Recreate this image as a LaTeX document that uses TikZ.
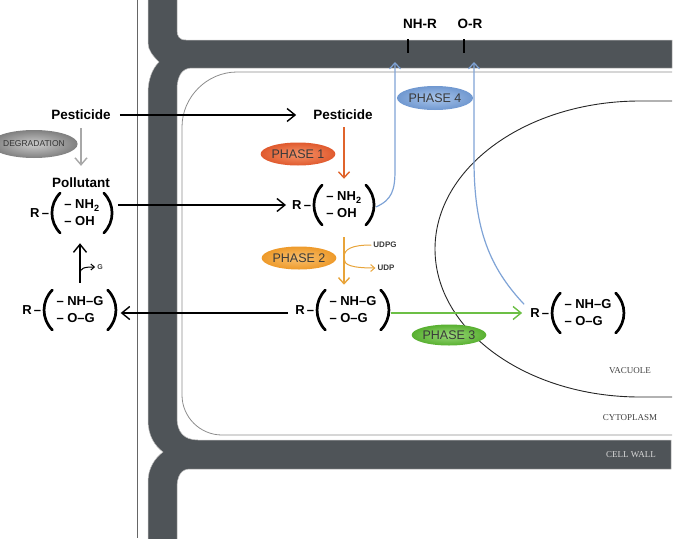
\documentclass[tikz,border=0pt]{standalone}
\usepackage{fontspec}
\setmainfont{Liberation Sans}
\newfontfamily\lserif{Liberation Serif}
\usetikzlibrary{arrows.meta,shapes.geometric,calc}
\definecolor{wallc}{HTML}{4F5458}
\definecolor{oneA}{HTML}{E05A2E}\definecolor{oneB}{HTML}{F5946A}
\definecolor{twoA}{HTML}{EE9A2A}\definecolor{twoB}{HTML}{F8C070}
\definecolor{thrA}{HTML}{58B030}\definecolor{thrB}{HTML}{9AD87A}
\definecolor{fouA}{HTML}{7098D0}\definecolor{fouB}{HTML}{A9C5EA}
\definecolor{orgone}{HTML}{E0642C}
\definecolor{orgtwo}{HTML}{E8A43A}
\definecolor{grnc}{HTML}{6CBF45}
\definecolor{bluc}{HTML}{7FA3D6}
\definecolor{gryc}{HTML}{A8A8A8}
\definecolor{txtc}{HTML}{3A3A3A}
\newcommand{\chemgrp}[4]{%
  \node[chemtxt] (#1) at (#2) {#3\\#4};
  \draw[paren] ([xshift=-4pt,yshift=20pt]#1.west) to[bend right=45] ([xshift=-4pt,yshift=-20pt]#1.west);
  \draw[paren] ([xshift=4pt,yshift=20pt]#1.east) to[bend left=45] ([xshift=4pt,yshift=-20pt]#1.east);
  \node[chemtxt,anchor=east] (#1R) at ([xshift=-15pt]#1.west) {R\,–};
}
\begin{document}
\begin{tikzpicture}[x=1pt,y=-1pt,
  lbl/.style={font=\bfseries\fontsize{13.5}{15}\selectfont, inner sep=0pt},
  chemtxt/.style={font=\bfseries\fontsize{13}{17}\selectfont, align=left, inner sep=0pt},
  paren/.style={line width=2.7pt, line cap=round},
  phase/.style={ellipse, inner sep=0pt, minimum width=74pt, minimum height=23pt, text=txtc, font=\fontsize{12.5}{14}\selectfont},
  blk/.style={draw=black, line width=1.4pt, -{Straight Barb[length=8pt,width=13pt]}},
  gry/.style={draw=gryc, line width=1.4pt, -{Straight Barb[length=7pt,width=12pt]}},
  orgA/.style={draw=orgone, line width=1.4pt, -{Straight Barb[length=6pt,width=11pt]}},
  orgB/.style={draw=orgtwo, line width=1.4pt, -{Straight Barb[length=6pt,width=11pt]}},
  orgthin/.style={draw=orgtwo, line width=1pt},
  grn/.style={draw=grnc, line width=1.4pt, -{Straight Barb[length=8pt,width=13pt]}},
  blu/.style={draw=bluc, line width=1.2pt, -{Straight Barb[length=6pt,width=11pt]}},
  membr/.style={draw=black!45, line width=0.8pt},
  small/.style={font=\bfseries\fontsize{8}{9}\selectfont, inner sep=0pt, text=txtc},
  region/.style={font=\lserif\fontsize{9}{10}\selectfont, inner sep=0pt},
  tick/.style={draw=black, line width=1.1pt}
]
\useasboundingbox (0,0) rectangle (676,538);
% thin outer line
\draw[draw=black!60, line width=0.8pt] (137,0) -- (137,538);
% cell wall
\fill[wallc, draw=black!25, line width=0.5pt]
  (148,-2) -- (177,-2) -- (177,30) .. controls (177,36) and (179,40) .. (186,40)
  -- (672,40) -- (672,68) -- (192,68) .. controls (182,68) and (177,76) .. (177,90)
  -- (177,418) .. controls (177,432) and (184,440) .. (198,440)
  -- (671,440) -- (671,469) -- (190,469) .. controls (181,469) and (177,476) .. (177,488)
  -- (177,540) -- (148,540) -- (148,482) .. controls (148,468) and (155,458) .. (163,452)
  .. controls (155,446) and (148,436) .. (148,420)
  -- (148,93) .. controls (148,80) and (152,69) .. (159,62)
  .. controls (153,56) and (148,50) .. (148,43) -- cycle;
% membrane
\draw[membr] (672,72) -- (237,72) .. controls (207,72) and (182,97) .. (182,127)
  -- (182,395) .. controls (182,417) and (200,435) .. (222,435) -- (672,435);
% vacuole
\draw[draw=black!85, line width=0.9pt] (672,101) -- (640,101) arc[start angle=90, end angle=270, x radius=205pt, y radius=148pt] -- (672,397);
% region labels
\node[region, text=black!75] (vac) at (630,371) {VACUOLE};
\node[region, text=black!75] (cyt) at (630,418) {CYTOPLASM};
\node[region, text=white!85!black] (cw) at (631,455) {CELL WALL};
% top labels
\node[lbl] (nhr) at (420,24) {NH-R};
\node[lbl] (orr) at (470,24) {O-R};
\draw[tick] (408,39) -- (408,53);
\draw[tick] (464,39) -- (464,53);
% texts
\node[lbl] (pestL) at (81,115) {Pesticide};
\node[lbl] (poll) at (81,183) {Pollutant};
\node[lbl] (pestR) at (343,115) {Pesticide};
\chemgrp{chemA}{82,213}{–~NH\textsubscript{2}}{–~OH}
\chemgrp{chemB}{344,205}{–~NH\textsubscript{2}}{–~OH}
\chemgrp{chemC}{353,310}{–~NH–G}{–~O–G}
\chemgrp{chemD}{80,310}{–~NH–G}{–~O–G}
\chemgrp{chemE}{588,313}{–~NH–G}{–~O–G}
\node[small] (udpg) at (385,245) {UDPG};
\node[small] (udp) at (386,268) {UDP};
\node[small, font=\bfseries\fontsize{7}{8}\selectfont] (gG) at (100,267) {G};
% black arrows
\draw[blk] ([xshift=9pt]pestL.east) -- ([xshift=-17pt]pestR.west);
\draw[blk] ([xshift=18pt]chemA.east |- chemBR.west) -- ([xshift=-6pt]chemBR.west);
\draw[blk] ([xshift=-7pt,yshift=-3pt]chemCR.west) -- ([xshift=17pt,yshift=-3pt]chemD.east);
\draw[blk] ([yshift=14pt]chemD.north) -- ([yshift=-17pt]chemD.north |- chemA.south);
\coordinate (gst) at (80,274);
\draw[draw=black, line width=1pt, -{Straight Barb[length=3.5pt,width=6pt]}] (gst) .. controls (80,268) and (84,267) .. ([xshift=-2pt]gG.west);
% gray degradation arrow
\draw[gry] ([yshift=-8pt]pestL.south) -- ([yshift=12pt]poll.north);
% orange arrows
\draw[orgA] ([yshift=-7pt]chemB.north |- pestR.south) -- ([yshift=13pt]chemB.north);
\draw[orgB] ([yshift=-19pt]chemB.south) -- ([yshift=12pt]chemB.south |- chemC.north);
\coordinate (jA) at (344,257);
\coordinate (jB) at (344,259);
\draw[orgthin] ([xshift=-2pt]udpg.west) .. controls (352,245) and (344,249) .. (jA);
\draw[orgthin, -{Straight Barb[length=4pt,width=7pt]}] (jB) .. controls (344,265) and (352,268) .. ([xshift=-2pt]udp.west);
% green arrow
\draw[grn] ([xshift=14pt]chemC.east |- chemER.west) -- ([xshift=-8pt]chemER.west);
% blue arrows
\coordinate (bA) at (395,62);
\coordinate (bB) at (474,62);
\draw[blu] ([xshift=14pt,yshift=-2pt]chemB.east) .. controls (392,200) and (395,190) .. (395,170) -- (bA);
\draw[blu] ([xshift=-6pt,yshift=4pt]chemER.north west) .. controls (490,268) and (474,230) .. (474,160) -- (bB);
% degradation
\node[ellipse, minimum width=82pt, minimum height=28pt, inner sep=0pt, shading=radial, inner color=black!20, outer color=black!50, text=black!80, font=\fontsize{8.5}{10}\selectfont] (degr) at (34,144) {DEGRADATION};
% phases
\node[phase, shading=radial, inner color=oneB, outer color=oneA] (ph1) at (298,154) {PHASE 1};
\node[phase, shading=radial, inner color=twoB, outer color=twoA] (ph2) at (299,258) {PHASE 2};
\node[phase, shading=radial, inner color=thrB, outer color=thrA, minimum width=72pt, minimum height=21pt] (ph3) at (449,335) {PHASE 3};
\node[phase, shading=radial, inner color=fouB, outer color=fouA, minimum width=76pt, minimum height=24pt] (ph4) at (435,98) {PHASE 4};
\end{tikzpicture}
\end{document}
